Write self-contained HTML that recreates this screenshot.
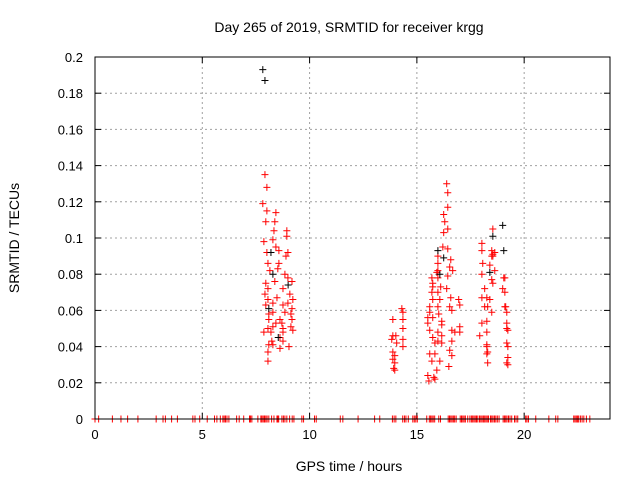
<!DOCTYPE html>
<html><head><meta charset="utf-8"><style>
body{margin:0;background:#fff;}
svg{display:block;font-family:"Liberation Sans",sans-serif;}
</style></head><body>
<svg id="chart" width="640" height="480"></svg>
<script>
const xTicks=[0,5,10,15,20];
const yTicks=[0,0.02,0.04,0.06,0.08,0.1,0.12,0.14,0.16,0.18,0.2];
const yTickLabels=["0","0.02","0.04","0.06","0.08","0.1","0.12","0.14","0.16","0.18","0.2"];
const redTimes=[7.92,8.01,7.82,8.01,8.43,7.96,8.38,8.34,8.94,8.94,7.87,8.29,8.43,8.57,8.01,8.99,8.90,8.06,8.57,8.52,8.15,8.85,8.99,9.18,7.96,8.38,8.76,8.06,7.92,8.48,9.08,9.22,8.06,8.99,7.96,8.29,8.76,9.18,8.29,8.10,8.85,9.13,8.10,8.62,9.18,8.43,8.71,8.29,8.76,9.13,8.06,9.22,7.87,8.20,8.76,8.24,8.62,8.29,8.10,8.76,9.04,8.62,8.06,8.06,
14.30,14.35,13.88,14.35,14.35,13.88,14.02,14.35,13.83,14.06,14.35,13.88,13.97,13.88,13.97,13.92,13.97,
16.39,16.44,16.44,16.25,16.30,16.25,16.44,16.21,16.44,15.98,16.58,15.98,16.53,15.98,15.93,16.67,16.44,15.70,15.98,15.74,15.74,16.11,16.39,15.70,15.98,16.07,16.58,15.74,16.95,15.60,15.98,16.53,17.00,16.63,15.60,16.02,15.51,15.74,16.16,15.51,16.16,17.00,16.63,15.60,15.98,16.77,17.00,15.74,16.16,15.84,16.63,15.98,16.16,16.53,15.60,15.84,16.63,15.70,16.07,16.49,15.93,15.51,15.79,15.56,15.84,
18.54,18.49,18.03,18.03,18.49,18.54,18.63,18.54,18.07,18.40,18.63,18.03,19.05,19.10,18.54,18.49,18.16,19.00,19.10,18.03,18.26,18.40,18.30,19.14,19.10,18.49,18.16,19.19,18.26,18.03,19.19,19.19,18.26,19.24,17.93,19.19,18.26,19.24,18.26,18.30,18.26,19.24,19.19,19.24,18.30];
const redValues=[0.135,0.128,0.119,0.115,0.114,0.109,0.109,0.104,0.104,0.101,0.098,0.099,0.095,0.093,0.092,0.092,0.090,0.086,0.086,0.083,0.082,0.080,0.078,0.076,0.075,0.076,0.072,0.072,0.069,0.067,0.069,0.066,0.066,0.064,0.063,0.064,0.063,0.061,0.059,0.058,0.059,0.058,0.055,0.055,0.055,0.053,0.053,0.051,0.050,0.051,0.050,0.049,0.048,0.048,0.048,0.043,0.045,0.041,0.041,0.043,0.040,0.039,0.037,0.032,
0.061,0.059,0.055,0.055,0.050,0.046,0.046,0.044,0.044,0.042,0.040,0.037,0.035,0.033,0.031,0.028,0.027,
0.130,0.125,0.117,0.113,0.109,0.103,0.105,0.095,0.094,0.090,0.088,0.086,0.084,0.082,0.081,0.082,0.079,0.078,0.078,0.075,0.073,0.073,0.072,0.070,0.070,0.066,0.067,0.066,0.066,0.062,0.062,0.062,0.063,0.060,0.059,0.058,0.056,0.056,0.054,0.053,0.052,0.051,0.049,0.049,0.048,0.048,0.048,0.045,0.046,0.042,0.043,0.043,0.042,0.038,0.036,0.036,0.035,0.032,0.032,0.029,0.027,0.024,0.023,0.021,0.022,
0.105,0.093,0.097,0.093,0.090,0.091,0.092,0.090,0.086,0.085,0.082,0.080,0.078,0.078,0.075,0.077,0.072,0.072,0.070,0.067,0.067,0.066,0.062,0.062,0.062,0.059,0.062,0.059,0.054,0.053,0.053,0.050,0.048,0.049,0.046,0.042,0.041,0.040,0.040,0.037,0.036,0.034,0.031,0.030,0.031,0.027,0.025,0.020];
const blackTimes=[7.82,7.92,8.20,8.29,8.10,8.54,9.00,16.07,15.98,16.25,18.54,19.00,18.40,19.05];
const blackValues=[0.193,0.187,0.092,0.080,0.061,0.045,0.074,0.080,0.093,0.089,0.101,0.107,0.081,0.093];
const zeroTimes=[0.0,0.17,0.81,1.21,1.52,2.0,2.85,3.17,3.28,3.57,3.84,4.56,4.66,4.88,5.23,5.57,5.68,5.84,5.96,6.02,6.08,6.15,6.24,6.60,6.72,6.93,7.20,7.25,7.31,7.59,7.73,7.78,7.84,7.90,7.96,8.02,8.10,8.23,8.34,8.48,8.52,8.56,8.71,8.78,8.85,8.94,9.07,9.19,9.27,9.64,9.72,10.23,10.31,11.43,11.55,12.26,13.03,13.27,13.86,13.94,14.02,14.34,14.42,14.49,14.60,14.81,14.88,14.95,15.02,15.46,15.58,15.64,15.70,15.76,15.83,16.02,16.10,16.46,16.52,16.58,16.64,16.70,16.76,16.83,17.02,17.08,17.14,17.20,17.26,17.37,17.47,17.54,17.60,17.66,17.72,17.78,17.84,17.92,17.98,18.04,18.10,18.16,18.22,18.28,18.34,18.43,18.49,18.55,18.62,18.68,18.75,18.83,19.02,19.08,19.14,19.20,19.27,19.34,19.42,19.55,19.62,19.70,20.07,20.13,20.20,20.54,21.15,21.47,21.57,22.31,22.37,22.43,22.49,22.54,22.62,22.70,22.78,22.90,23.06];

const L=95,R=610,T=57,B=419;
const X=v=>L+(v/24)*(R-L);
const Y=v=>B-(v/0.2)*(B-T);
const NS="http://www.w3.org/2000/svg";
const svg=document.getElementById('chart');
function mk(tag,attrs,parent){const e=document.createElementNS(NS,tag);for(const k in attrs)e.setAttribute(k,attrs[k]);(parent||svg).appendChild(e);return e;}

const grid=mk('g',{});


xTicks.forEach(t=>{
  if(t>0) mk('line',{x1:X(t),x2:X(t),y1:T,y2:B,stroke:'#a0a0a0','stroke-dasharray':'2,3'},grid);
  mk('line',{x1:X(t),x2:X(t),y1:B,y2:B-6,stroke:'#000'},grid);
  mk('line',{x1:X(t),x2:X(t),y1:T,y2:T+6,stroke:'#000'},grid);
  const tx=mk('text',{x:X(t),y:B+20,'text-anchor':'middle','font-size':13});
  tx.textContent=t;
  
  
});
yTicks.forEach((t,i)=>{
  if(t>0) mk('line',{x1:L,x2:R,y1:Y(t),y2:Y(t),stroke:'#a0a0a0','stroke-dasharray':'2,3'},grid);
  mk('line',{x1:L,x2:L+6,y1:Y(t),y2:Y(t),stroke:'#000'},grid);
  mk('line',{x1:R,x2:R-6,y1:Y(t),y2:Y(t),stroke:'#000'},grid);
  const tx=mk('text',{x:L-12,y:Y(t)+5,'text-anchor':'end','font-size':13});
  tx.textContent=yTickLabels[i];
  
  
});

function cross(g,t,v,c){
  const x=X(t),y=Y(v);
  mk('path',{d:`M${x-3.5},${y}H${x+3.5}M${x},${y-3.5}V${y+3.5}`,stroke:c,'stroke-width':1,fill:'none'},g);
}
const gb=mk('g',{});


const gr=mk('g',{});


redTimes.forEach((t,i)=>cross(gr,t,redValues[i],'#ff0000'));
zeroTimes.forEach(t=>cross(gr,t,0,'#ff0000'));
blackTimes.forEach((t,i)=>cross(gb,t,blackValues[i],'#000'));
svg.appendChild(gb);

const frame=mk('rect',{x:L,y:T,width:R-L,height:B-T,fill:'none',stroke:'#000'});



const title=mk('text',{x:349,y:32,'text-anchor':'middle','font-size':14});
title.textContent='Day 265 of 2019, SRMTID for receiver krgg';


const xl=mk('text',{x:349,y:471,'text-anchor':'middle','font-size':14});
xl.textContent='GPS time / hours';


const yl=mk('text',{x:0,y:0,'text-anchor':'middle','font-size':14,transform:'translate(19,238) rotate(-90)'});
yl.textContent='SRMTID / TECUs';


</script>
</body></html>
